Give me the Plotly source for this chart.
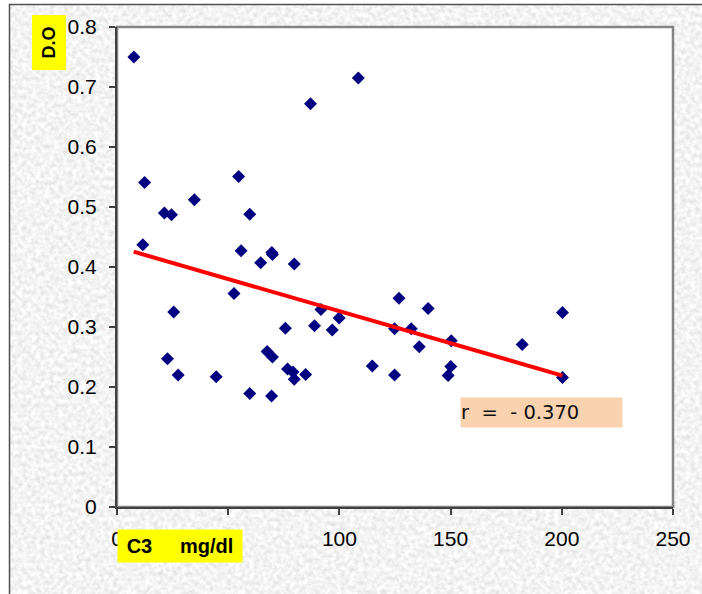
import base64
import plotly.graph_objects as go

# ---- data ----
c3_mgdl = [7.6, 12.4, 11.6, 21.3, 24.5, 34.8, 25.5, 22.7, 27.5, 44.6,
           52.6, 54.7, 55.8, 59.7, 59.7, 64.6, 69.6, 69.9, 67.5, 69.9,
           69.5, 75.7, 76.7, 79.1, 79.7, 79.7, 84.8, 87.0, 88.8, 91.7,
           96.8, 99.9, 108.5, 114.8, 124.8, 124.8, 126.8, 132.3, 135.9, 139.9,
           150.3, 150.1, 148.9, 182.2, 200.3, 200.3]
do_values = [0.750, 0.541, 0.437, 0.490, 0.487, 0.512, 0.325, 0.247, 0.220, 0.217,
             0.356, 0.551, 0.427, 0.488, 0.189, 0.407, 0.424, 0.421, 0.259, 0.250,
             0.185, 0.298, 0.230, 0.225, 0.213, 0.405, 0.221, 0.672, 0.302, 0.329,
             0.295, 0.315, 0.715, 0.235, 0.297, 0.220, 0.348, 0.297, 0.267, 0.331,
             0.277, 0.234, 0.219, 0.271, 0.324, 0.216]
trend_x = [7.5, 200.3]
trend_y = [0.4255, 0.219]
x_ticks = [0, 50, 100, 150, 200, 250]
y_ticks = [0, 0.1, 0.2, 0.3, 0.4, 0.5, 0.6, 0.7, 0.8]
r_label = "r\u00a0\u00a0=\u00a0\u00a0-\u00a00.370"
x_title = "<b>C3\u00a0\u00a0\u00a0\u00a0\u00a0mg/dl</b>"
y_title = "<b>D.O</b>"

# ---- granite-like background texture (SVG noise) ----
svg = (
    "<svg xmlns='http://www.w3.org/2000/svg' width='700' height='600'>"
    "<filter id='n' x='0' y='0' width='100%' height='100%'>"
    "<feTurbulence type='fractalNoise' baseFrequency='0.22' numOctaves='3' seed='7'/>"
    "<feColorMatrix type='matrix' values='0.42 0 0 0 0.69  0.42 0 0 0 0.69  0.42 0 0 0 0.69  0 0 0 0 1'/>"
    "</filter>"
    "<rect width='700' height='600' filter='url(#n)'/></svg>"
)
svg_uri = "data:image/svg+xml;base64," + base64.b64encode(svg.encode()).decode()

L, R, T, B = 117, 29, 27, 87
W, H = 702, 594
pw, ph = W - L - R, H - T - B


def px(xp):
    return (xp - L) / pw


def py(yp):
    return (H - B - yp) / ph


fig = go.Figure()
fig.add_trace(go.Scatter(
    x=c3_mgdl, y=do_values, mode="markers",
    marker=dict(symbol="diamond", size=10, color="#000080", line=dict(width=0)),
    hoverinfo="x+y", showlegend=False))
fig.add_trace(go.Scatter(
    x=trend_x, y=trend_y, mode="lines",
    line=dict(color="#FF0000", width=4), showlegend=False))

fig.update_layout(
    width=W, height=H,
    margin=dict(l=L, r=R, t=T, b=B, pad=0),
    paper_bgcolor="white", plot_bgcolor="white",
    font=dict(family="Liberation Sans, Arial, sans-serif", size=21, color="black"),
    images=[dict(source=svg_uri, xref="paper", yref="paper",
                 x=px(9), y=py(4), sizex=700 / pw, sizey=600 / ph,
                 xanchor="left", yanchor="top", sizing="stretch", layer="below")],
    shapes=[
        dict(type="rect", xref="paper", yref="paper", x0=px(9.5), y0=py(4.5),
             x1=px(720), y1=py(620), line=dict(color="#505050", width=1.5),
             fillcolor="rgba(0,0,0,0)", layer="below"),
        dict(type="rect", xref="paper", yref="paper", x0=0, y0=0, x1=1, y1=1,
             line=dict(color="#858585", width=2.5), fillcolor="white", layer="below"),
    ],
    annotations=[
        dict(text=y_title, textangle=-90, xref="paper", yref="paper",
             x=px(48.5), y=py(43), xanchor="center", yanchor="middle",
             showarrow=False, bgcolor="#FFFF00", width=54, height=33, borderpad=0,
             font=dict(size=18, family="Liberation Sans, Arial, sans-serif", color="black")),
        dict(text=x_title, xref="paper", yref="paper",
             x=px(180), y=py(546), xanchor="center", yanchor="middle",
             showarrow=False, bgcolor="#FFFF00", width=124, height=32, borderpad=0,
             font=dict(size=20, family="Liberation Sans, Arial, sans-serif", color="black")),
        dict(text=r_label, xref="paper", yref="paper",
             x=px(541), y=py(412.5), xanchor="center", yanchor="middle",
             showarrow=False, bgcolor="#F9D2B0", width=161, height=29, borderpad=0,
             align="left",
             font=dict(size=19.5, family="DejaVu Sans, Verdana, sans-serif", color="#111111")),
    ],
)
fig.update_xaxes(range=[0, 250], tickvals=x_ticks, ticktext=[str(v) for v in x_ticks],
                 showgrid=False, zeroline=False, showline=True, linecolor="#404040",
                 linewidth=2, ticks="outside", ticklen=6, tickwidth=1.5, tickcolor="#404040",
                 ticklabelstandoff=6)
fig.update_yaxes(range=[0, 0.8], tickvals=y_ticks,
                 ticktext=["0" if v == 0 else f"{v:g}" for v in y_ticks],
                 showgrid=False, zeroline=False, showline=True, linecolor="#404040",
                 linewidth=2, ticks="outside", ticklen=6, tickwidth=1.5, tickcolor="#404040",
                 ticklabelstandoff=8)

fig.write_html("out.html")
